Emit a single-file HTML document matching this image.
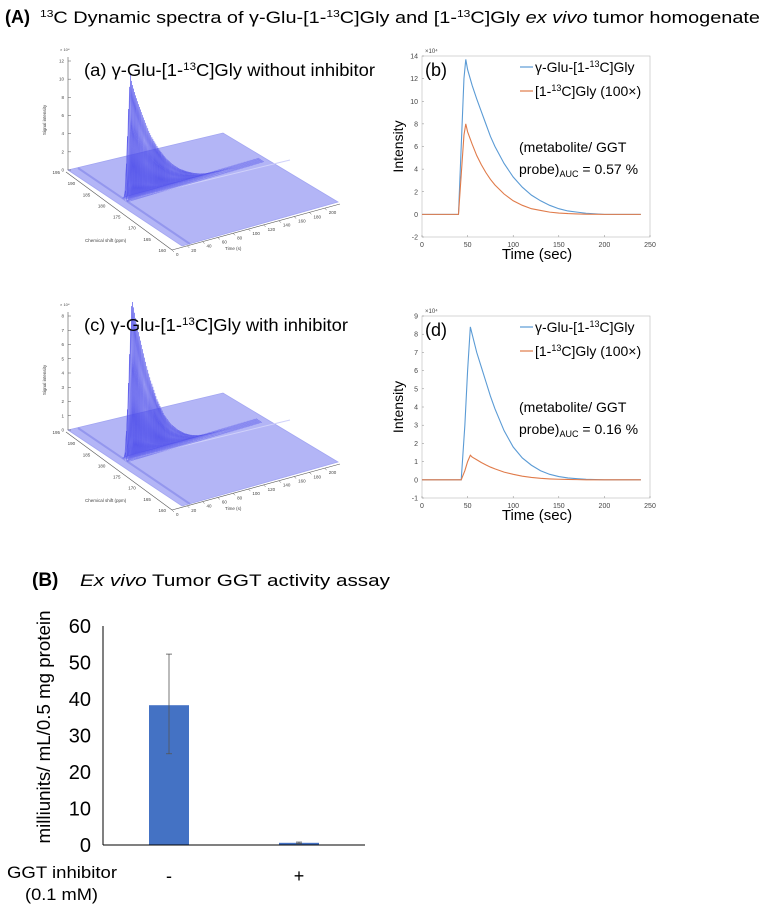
<!DOCTYPE html>
<html><head><meta charset="utf-8">
<style>
html,body{margin:0;padding:0;background:#fff;}
svg{display:block;font-family:"Liberation Sans",sans-serif;}
</style></head>
<body>
<svg id="fig" width="768" height="912" viewBox="0 0 768 912" xmlns="http://www.w3.org/2000/svg">
  <text x="5" y="23" font-size="18" font-weight="bold">(A)</text>
  <text x="40" y="23" font-size="16.5" textLength="720" lengthAdjust="spacingAndGlyphs"><tspan font-size="10" dy="-6">13</tspan><tspan dy="6">C Dynamic spectra of γ-Glu-[1-</tspan><tspan font-size="10" dy="-6">13</tspan><tspan dy="6">C]Gly and [1-</tspan><tspan font-size="10" dy="-6">13</tspan><tspan dy="6">C]Gly </tspan><tspan font-style="italic">ex vivo</tspan><tspan> tumor homogenate</tspan></text>

  <g id="p3a"></g>
  <g id="p3c"></g>
  <text x="84" y="76" font-size="17.5" textLength="291" lengthAdjust="spacingAndGlyphs">(a) γ-Glu-[1-<tspan font-size="11" dy="-6">13</tspan><tspan dy="6">C]Gly without inhibitor</tspan></text>
  <text x="84" y="331" font-size="17.5" textLength="264" lengthAdjust="spacingAndGlyphs">(c) γ-Glu-[1-<tspan font-size="11" dy="-6">13</tspan><tspan dy="6">C]Gly with inhibitor</tspan></text>

  <g id="pb"></g>
  <g id="pd"></g>
  <g id="pB"></g>
</svg>
<script>
// ---------- data ----------
const bTime = [0,40,43,46,48,50,55,60,65,70,75,80,90,100,110,120,130,140,150,160,170,180,200,220,240];
const bProbe = [0,0,6,12,13.7,12.8,11.4,10.2,9.1,8,6.9,6,4.5,3.3,2.4,1.7,1.2,0.8,0.5,0.3,0.2,0.1,0,0,0];
const bMetab = [0,0,3.5,7,8,7.3,6.2,5.2,4.4,3.7,3.1,2.6,1.8,1.2,0.8,0.5,0.35,0.2,0.12,0.07,0.04,0.02,0,0,0];
const dTime = [0,43,47,50,53,55,60,65,70,75,80,90,100,110,120,130,140,150,160,170,180,200,220,240];
const dProbe = [0,0,3,6,8.4,8.0,7.0,6.2,5.4,4.6,3.9,2.7,1.8,1.2,0.8,0.5,0.3,0.18,0.1,0.06,0.03,0,0,0];
const dMetab = [0,0,0.5,1,1.35,1.25,1.1,0.95,0.82,0.7,0.6,0.42,0.3,0.2,0.13,0.08,0.05,0.03,0.02,0.01,0,0,0,0];
const bYTicks = [-2,0,2,4,6,8,10,12,14];
const dYTicks = [-1,0,1,2,3,4,5,6,7,8,9];
const xTicks = [0,50,100,150,200,250];
const barCats = ["-","+"];
const barVals = [38.3,0.6];
const barErrLow = [25.0,0.4];
const barErrHigh = [52.3,0.8];
const barTicks = [0,10,20,30,40,50,60];
const ppmTicks = [195,190,185,180,175,170,165,160];
const timeTicks3d = [0,20,40,60,80,100,120,140,160,180,200];

const NS="http://www.w3.org/2000/svg";
function mk(parent,tag,attrs,text){const e=document.createElementNS(NS,tag);for(const k in attrs)e.setAttribute(k,attrs[k]);if(text!==undefined)e.textContent=text;parent.appendChild(e);return e;}
function interp(ts,vs,t){if(t<=ts[0])return vs[0];for(let i=1;i<ts.length;i++){if(t<=ts[i]){const f=(t-ts[i-1])/(ts[i]-ts[i-1]);return vs[i-1]+f*(vs[i]-vs[i-1]);}}return vs[vs.length-1];}

// ---------- 3D waterfall ----------
function draw3d(g,dy,times,vals,hScale,yMax){
  const pl=mk(g,'polygon',{points:`68,${170+dy} 223,${133+dy} 338,${202+dy} 182,${246+dy}`,fill:'#b3b5f6',stroke:'#a3a6f2','stroke-width':0.8});
  
  
  mk(g,'line',{x1:78,y1:168+dy,x2:190,y2:244+dy,stroke:'#9497ee','stroke-width':2});
  mk(g,'line',{x1:125,y1:200+dy,x2:290,y2:160+dy,stroke:'#d0d1fa','stroke-width':1});
  const topY = dy?316:61;
  mk(g,'line',{x1:68,y1:170+dy,x2:68,y2:topY-4,stroke:'#555','stroke-width':0.6});
  mk(g,'text',{x:60,y:topY-10,'font-size':4,fill:'#444'},'× 10⁴');
  const zstep=dy?1:2;
  for(let v=0;v<=yMax;v+=zstep){
    const y=(170+dy)-(v/yMax)*((170+dy)-topY);
    mk(g,'line',{x1:68,y1:y,x2:71,y2:y,stroke:'#555','stroke-width':0.5});
    mk(g,'text',{x:64,y:y+1.5,'font-size':4.5,'text-anchor':'end',fill:'#444'},String(v));
  }
  const zl=mk(g,'text',{x:0,y:0,'font-size':4.5,fill:'#444','text-anchor':'middle',transform:`translate(46,${120+dy}) rotate(-90)`},'Signal intensity');
  
  
  mk(g,'line',{x1:66,y1:172+dy,x2:172,y2:250+dy,stroke:'#555','stroke-width':0.6});
  ppmTicks.forEach((p,i)=>{const f=(195-p)/35;const x=66+f*106,y=172+dy+f*78;
    mk(g,'text',{x:x-6,y:y+2,'font-size':4.5,'text-anchor':'end',fill:'#444'},String(p));});
  const pt=mk(g,'text',{x:85,y:242+dy,'font-size':4.5,fill:'#444'},'Chemical shift (ppm)');
  
  
  mk(g,'line',{x1:172,y1:250+dy,x2:340,y2:204+dy,stroke:'#555','stroke-width':0.6});
  timeTicks3d.forEach(t=>{const f=t/220;const x=172+f*168,y=250+dy-f*46;
    mk(g,'line',{x1:x,y1:y,x2:x+2,y2:y+2,stroke:'#555','stroke-width':0.5});
    mk(g,'text',{x:x+4,y:y+6,'font-size':4.5,fill:'#444'},String(t));});
  const tt=mk(g,'text',{x:225,y:250+dy,'font-size':4.5,fill:'#444'},'Time (s)');
  
  
  const t0=times[1];
  for(let t=240;t>=t0;t-=1.5){
    const a=interp(times,vals,t);
    const bx=125+(t-t0)*0.68, by=200+dy-(t-t0)*0.2;
    let pts=[];
    for(let s=-2;s<=2;s+=0.5){
      const h=a*hScale*Math.exp(-s*s/0.5);
      pts.push(`${(bx+s*1.5).toFixed(1)},${(by+s*1.0-h).toFixed(1)}`);
    }
    const l=mk(g,'polyline',{points:pts.join(' '),fill:'rgba(90,90,240,0.22)',stroke:'#4a4ae8','stroke-width':0.4});
    
    
  }
}
draw3d(document.getElementById('p3a'),0,bTime,bProbe,9.0,12);
draw3d(document.getElementById('p3c'),260,dTime,dProbe,19.0,8);

// ---------- 2D kinetics ----------
function drawLine(g,top,bottom,yMin,yMax,yTicks,times,probe,metab,label,auc){
  const L=422,R=650;
  const xs=t=>L+(t/250)*(R-L);
  const ys=v=>bottom-(v-yMin)/(yMax-yMin)*(bottom-top);
  mk(g,'rect',{x:L,y:top,width:R-L,height:bottom-top,fill:'none',stroke:'#bbb','stroke-width':0.6});
  yTicks.forEach(v=>{mk(g,'line',{x1:L,y1:ys(v),x2:L+2,y2:ys(v),stroke:'#888','stroke-width':0.5});
    const t=mk(g,'text',{x:L-4,y:ys(v)+2.5,'font-size':7,'text-anchor':'end',fill:'#444'},String(v));
    
    });
  xTicks.forEach(v=>{mk(g,'line',{x1:xs(v),y1:bottom,x2:xs(v),y2:bottom-2,stroke:'#888','stroke-width':0.5});
    const t=mk(g,'text',{x:xs(v),y:bottom+10,'font-size':7,'text-anchor':'middle',fill:'#444'},String(v));
    
    });
  mk(g,'text',{x:L+3,y:top-3,'font-size':6,fill:'#444'},'×10⁴');
  const lp=mk(g,'polyline',{points:times.map((t,i)=>xs(t)+','+ys(probe[i])).join(' '),fill:'none',stroke:'#5b9bd5','stroke-width':1.1});
  
  
  const lm=mk(g,'polyline',{points:times.map((t,i)=>xs(t)+','+ys(metab[i])).join(' '),fill:'none',stroke:'#e07b4a','stroke-width':1.1});
  
  
  const pl=mk(g,'text',{x:425,y:top+20,'font-size':18},label);
  
  
  const le=mk(g,'g',{});
  
  
  mk(le,'line',{x1:520,y1:top+11,x2:533,y2:top+11,stroke:'#5b9bd5','stroke-width':1.2});
  mk(le,'line',{x1:520,y1:top+35,x2:533,y2:top+35,stroke:'#e07b4a','stroke-width':1.2});
  const t1=mk(le,'text',{x:535,y:top+16,'font-size':14});
  t1.innerHTML='γ-Glu-[1-<tspan font-size="9" dy="-5">13</tspan><tspan dy="5">C]Gly</tspan>';
  const t2=mk(le,'text',{x:535,y:top+40,'font-size':14});
  t2.innerHTML='[1-<tspan font-size="9" dy="-5">13</tspan><tspan dy="5">C]Gly (100×)</tspan>';
  const a1=mk(g,'text',{x:519,y:top+96,'font-size':14},'(metabolite/ GGT');
  
  
  const a2=mk(g,'text',{x:519,y:top+118,'font-size':14});
  a2.innerHTML='probe)<tspan font-size="9" dy="3">AUC</tspan><tspan dy="-3"> = '+auc+'</tspan>';
  const yl=mk(g,'text',{x:0,y:0,'font-size':14,'text-anchor':'middle',transform:`translate(403,${(top+bottom)/2}) rotate(-90)`},'Intensity');
  
  
  const xl=mk(g,'text',{x:537,y:bottom+22,'font-size':15,'text-anchor':'middle'},'Time (sec)');
  
  
}
drawLine(document.getElementById('pb'),56,237,-2,14,bYTicks,bTime,bProbe,bMetab,'(b)','0.57 %');
drawLine(document.getElementById('pd'),316,498,-1,9,dYTicks,dTime,dProbe,dMetab,'(d)','0.16 %');

// ---------- bar chart ----------
(function(){
  const g=document.getElementById('pB');
  const x0=103, x1=365, yb=845, yt=626;
  const ys=v=>yb-(v/60)*(yb-yt);
  const cx=[169,299];
  const h1=mk(g,'text',{x:32,y:586,'font-size':19,'font-weight':'bold'},'(B)');
  
  
  const h2=mk(g,'text',{x:80,y:586,'font-size':17,textLength:310,lengthAdjust:'spacingAndGlyphs'});
  h2.innerHTML='<tspan font-style="italic">Ex vivo</tspan> Tumor GGT activity assay';
  
  
  barTicks.forEach(v=>{const t=mk(g,'text',{x:91,y:ys(v)+7,'font-size':20,'text-anchor':'end'},String(v));
    
    });
  mk(g,'line',{x1:x0,y1:yt,x2:x0,y2:yb,stroke:'#000','stroke-width':1});
  barVals.forEach((v,i)=>{
    const r=mk(g,'rect',{x:cx[i]-20,y:ys(v),width:40,height:yb-ys(v),fill:'#4472c4'});
    
    
    const e=mk(g,'g',{stroke:'#555','stroke-width':0.8});
    
    
    mk(e,'line',{x1:cx[i],y1:ys(barErrHigh[i]),x2:cx[i],y2:ys(barErrLow[i])});
    mk(e,'line',{x1:cx[i]-3,y1:ys(barErrHigh[i]),x2:cx[i]+3,y2:ys(barErrHigh[i])});
    mk(e,'line',{x1:cx[i]-3,y1:ys(barErrLow[i]),x2:cx[i]+3,y2:ys(barErrLow[i])});
    const c=mk(g,'text',{x:cx[i],y:882,'font-size':18,'text-anchor':'middle'},barCats[i]);
    
    
  });
  mk(g,'line',{x1:x0,y1:yb,x2:x1,y2:yb,stroke:'#000','stroke-width':1});
  const yl=mk(g,'text',{x:0,y:0,'font-size':18,'text-anchor':'middle',textLength:233,lengthAdjust:'spacingAndGlyphs',transform:'translate(50,727) rotate(-90)'},'milliunits/ mL/0.5 mg protein');
  
  
  const xa=mk(g,'text',{x:7,y:878,'font-size':17,textLength:110,lengthAdjust:'spacingAndGlyphs'},'GGT inhibitor');
  
  
  mk(g,'text',{x:25,y:900,'font-size':17,textLength:73,lengthAdjust:'spacingAndGlyphs'},'(0.1 mM)');
})();
</script>
</body></html>
